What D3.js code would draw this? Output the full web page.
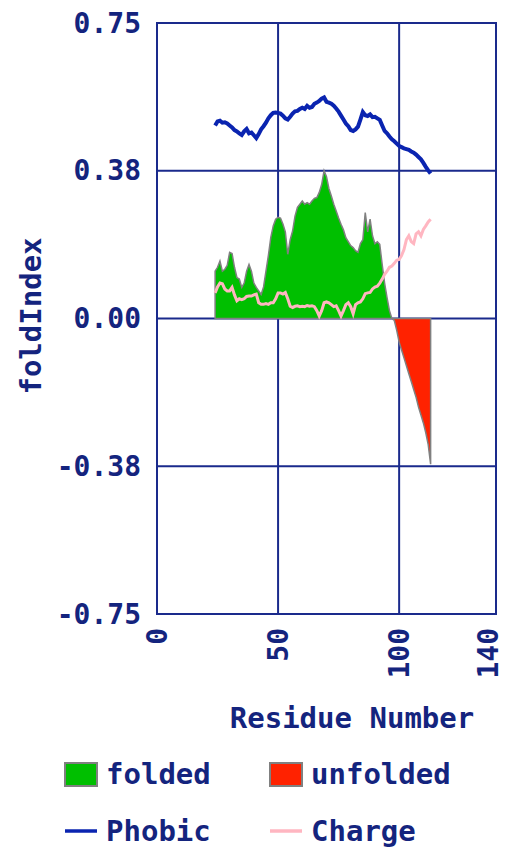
<!DOCTYPE html>
<html>
<head>
<meta charset="utf-8">
<script src="https://cdn.jsdelivr.net/npm/d3@7"></script>
<style>
  html, body { margin: 0; padding: 0; background: #fff; }
  svg { display: block; }
  text { font-family: "DejaVu Sans Mono", "Liberation Mono", monospace; font-weight: bold; fill: #14247e; }
</style>
</head>
<body>
<svg id="chart" width="508" height="851"></svg>
<script>
// FoldIndex profile: first residue of the window-averaged series
const firstResidue = 24;

// foldIndex per residue (positive = folded, negative = unfolded)
const foldIndex = [
  0.120, 0.130, 0.146, 0.120, 0.125, 0.135, 0.168, 0.165, 0.130, 0.104,
  0.100, 0.079, 0.090, 0.120, 0.137, 0.120, 0.090, 0.079, 0.070, 0.061,
  0.080, 0.120, 0.160, 0.206, 0.235, 0.252, 0.257, 0.255, 0.240, 0.220,
  0.163, 0.200, 0.222, 0.260, 0.282, 0.290, 0.298, 0.290, 0.294, 0.290,
  0.298, 0.305, 0.307, 0.320, 0.340, 0.375, 0.360, 0.330, 0.311, 0.290,
  0.273, 0.255, 0.239, 0.225, 0.205, 0.195, 0.185, 0.180, 0.172, 0.168,
  0.190, 0.200, 0.269, 0.220, 0.252, 0.210, 0.190, 0.195, 0.188, 0.137,
  0.090, 0.053, 0.020, 0.000, -0.005, -0.030, -0.060, -0.080, -0.100, -0.120,
  -0.140, -0.160, -0.180, -0.200, -0.225, -0.245, -0.265, -0.290, -0.320, -0.370
];

// Hydrophobicity per residue
const phobic = [
  0.490, 0.500, 0.502, 0.497, 0.498, 0.495, 0.490, 0.485, 0.478, 0.475,
  0.470, 0.466, 0.475, 0.481, 0.470, 0.472, 0.465, 0.458, 0.468, 0.480,
  0.488, 0.497, 0.508, 0.516, 0.522, 0.523, 0.522, 0.520, 0.515, 0.508,
  0.505, 0.512, 0.520, 0.526, 0.527, 0.532, 0.535, 0.532, 0.540, 0.535,
  0.537, 0.545, 0.548, 0.552, 0.558, 0.561, 0.550, 0.548, 0.545, 0.540,
  0.533, 0.525, 0.515, 0.505, 0.495, 0.488, 0.478, 0.476, 0.480, 0.487,
  0.505, 0.524, 0.516, 0.514, 0.518, 0.511, 0.512, 0.508, 0.504, 0.490,
  0.476, 0.470, 0.462, 0.455, 0.450, 0.444, 0.438, 0.435, 0.432, 0.430,
  0.428, 0.424, 0.421, 0.416, 0.410, 0.404, 0.395, 0.385, 0.376, 0.368
];

// Net charge per residue
const charge = [
  0.065, 0.080, 0.090, 0.088, 0.075, 0.070, 0.070, 0.079, 0.060, 0.045,
  0.050, 0.048, 0.050, 0.056, 0.057, 0.057, 0.060, 0.062, 0.040, 0.036,
  0.036, 0.038, 0.036, 0.040, 0.040, 0.050, 0.065, 0.065, 0.062, 0.066,
  0.050, 0.031, 0.028, 0.031, 0.032, 0.030, 0.031, 0.030, 0.033, 0.031,
  0.032, 0.030, 0.020, 0.006, 0.020, 0.040, 0.042, 0.040, 0.035, 0.030,
  0.032, 0.020, 0.006, 0.020, 0.035, 0.040, 0.030, 0.012, 0.035, 0.040,
  0.042, 0.050, 0.063, 0.065, 0.066, 0.075, 0.080, 0.082, 0.090, 0.100,
  0.112, 0.120, 0.130, 0.133, 0.140, 0.148, 0.150, 0.160, 0.175, 0.200,
  0.210, 0.195, 0.190, 0.215, 0.220, 0.210, 0.226, 0.235, 0.245, 0.252
];

const yTickValues = [0.75, 0.375, 0, -0.375, -0.75];
const yTickLabels = ["0.75", "0.38", "0.00", "-0.38", "-0.75"];
const xTickValues = [0, 50, 100, 140];
const xTickLabels = ["0", "50", "100", "140"];
const xGridValues = [50, 100];

const legendItems = [
  { label: "folded",   kind: "box",  color: "#00bf00" },
  { label: "unfolded", kind: "box",  color: "#ff2200" },
  { label: "Phobic",   kind: "line", color: "#0a24b0" },
  { label: "Charge",   kind: "line", color: "#ffb6c1" }
];

const gridColor = "#1a2a8c";

const svg = d3.select("#chart");
const plot = { left: 157, right: 496, top: 23, bottom: 614 };

const x = d3.scaleLinear().domain([0, 140]).range([plot.left, plot.right]);
const y = d3.scaleLinear().domain([-0.75, 0.75]).range([plot.bottom, plot.top]);

const rows = foldIndex.map((v, i) => ({
  r: firstResidue + i,
  fold: v,
  phobic: phobic[i],
  charge: charge[i]
}));

// Grid lines and frame
const g = svg.append("g");
g.selectAll("line.hgrid").data([0.375, 0, -0.375]).join("line")
  .attr("x1", plot.left).attr("x2", plot.right)
  .attr("y1", d => y(d)).attr("y2", d => y(d))
  .attr("stroke", gridColor).attr("stroke-width", 2);
g.selectAll("line.vgrid").data(xGridValues).join("line")
  .attr("x1", d => x(d)).attr("x2", d => x(d))
  .attr("y1", plot.top).attr("y2", plot.bottom)
  .attr("stroke", gridColor).attr("stroke-width", 2);
g.append("rect")
  .attr("x", plot.left).attr("y", plot.top)
  .attr("width", plot.right - plot.left).attr("height", plot.bottom - plot.top)
  .attr("fill", "none").attr("stroke", gridColor).attr("stroke-width", 2);

// Clip regions above / below zero
const defs = svg.append("defs");
defs.append("clipPath").attr("id", "above").append("rect")
  .attr("x", plot.left).attr("y", plot.top)
  .attr("width", plot.right - plot.left).attr("height", y(0) - plot.top);
defs.append("clipPath").attr("id", "below").append("rect")
  .attr("x", plot.left).attr("y", y(0))
  .attr("width", plot.right - plot.left).attr("height", plot.bottom - y(0));

const area = d3.area()
  .x(d => x(d.r))
  .y0(y(0))
  .y1(d => y(d.fold));

svg.append("path").datum(rows)
  .attr("d", area).attr("fill", "#00bf00").attr("clip-path", "url(#above)");
svg.append("path").datum(rows)
  .attr("d", area).attr("fill", "#ff2200").attr("clip-path", "url(#below)");
svg.append("path").datum(rows)
  .attr("d", area).attr("fill", "none")
  .attr("stroke", "#808080").attr("stroke-width", 1.5);

// Charge and hydrophobicity traces
svg.append("path").datum(rows)
  .attr("d", d3.line().x(d => x(d.r)).y(d => y(d.charge)))
  .attr("fill", "none").attr("stroke", "#ffb6c1").attr("stroke-width", 3);
svg.append("path").datum(rows)
  .attr("d", d3.line().x(d => x(d.r)).y(d => y(d.phobic)))
  .attr("fill", "none").attr("stroke", "#0a24b0").attr("stroke-width", 4);

// Y tick labels
svg.selectAll("text.ytick").data(yTickValues).join("text")
  .attr("class", "ytick")
  .attr("x", 141).attr("y", d => y(d))
  .attr("text-anchor", "end").attr("dominant-baseline", "central")
  .attr("font-size", 28)
  .text((d, i) => yTickLabels[i]);

// X tick labels, rotated; the last one is kept inside the canvas
svg.selectAll("text.xtick").data(xTickValues).join("text")
  .attr("class", "xtick")
  .attr("transform", d => `translate(${Math.min(x(d), 488)},628) rotate(-90)`)
  .attr("text-anchor", "end").attr("dominant-baseline", "central")
  .attr("font-size", 28)
  .text((d, i) => xTickLabels[i]);

// Axis titles
svg.append("text")
  .attr("x", 352).attr("y", 728)
  .attr("text-anchor", "middle").attr("font-size", 29)
  .text("Residue Number");
svg.append("text")
  .attr("transform", "translate(31,316) rotate(-90)")
  .attr("text-anchor", "middle").attr("dominant-baseline", "central")
  .attr("font-size", 29)
  .text("foldIndex");

// Legend
const legendPos = [[65, 774], [270, 774], [65, 831], [270, 831]];
const leg = svg.selectAll("g.legend").data(legendItems).join("g")
  .attr("class", "legend")
  .attr("transform", (d, i) => `translate(${legendPos[i][0]},${legendPos[i][1]})`);
leg.filter(d => d.kind === "box").append("rect")
  .attr("x", 0).attr("y", -11).attr("width", 32).attr("height", 23)
  .attr("fill", d => d.color).attr("stroke", "#808080").attr("stroke-width", 2);
leg.filter(d => d.kind === "line").append("line")
  .attr("x1", 0).attr("x2", 32).attr("y1", 0).attr("y2", 0)
  .attr("stroke", d => d.color).attr("stroke-width", 3.5);
leg.append("text")
  .attr("x", 41).attr("y", 0)
  .attr("dominant-baseline", "central").attr("font-size", 29)
  .text(d => d.label);
</script>
</body>
</html>
